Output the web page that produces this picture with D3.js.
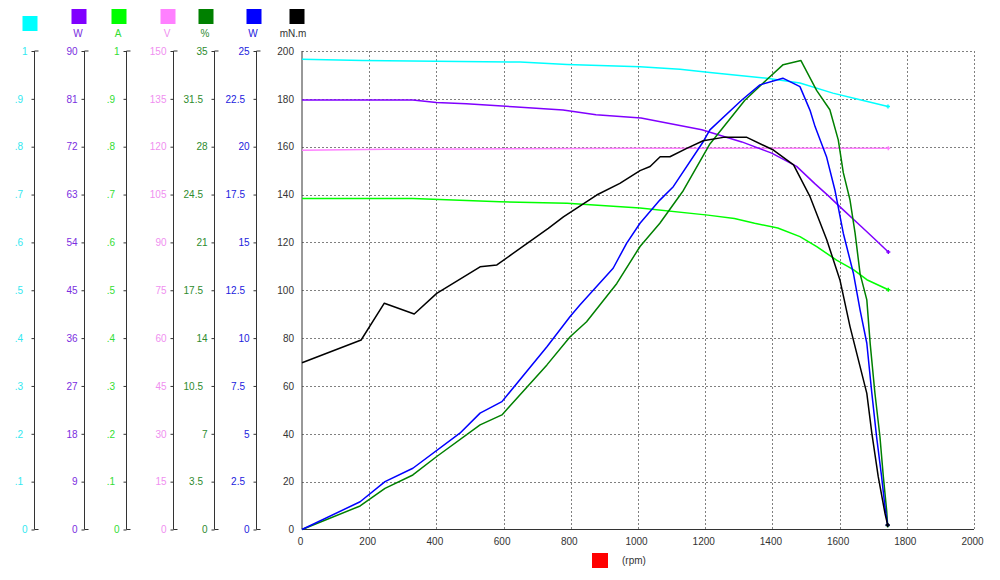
<!DOCTYPE html>
<html>
<head>
<meta charset="utf-8">
<script src="https://cdn.jsdelivr.net/npm/d3@7"></script>
<style>
  html, body { margin: 0; padding: 0; background: #fff; }
  svg { display: block; font-family: "Liberation Sans", Arial, sans-serif; }
</style>
</head>
<body>
<svg id="chart" width="1000" height="580"></svg>
<script>
/* motor curve chart: 7 y axes side by side, one rpm axis */

// axes, left to right
var axisUnits = ['', 'W', 'A', 'V', '%', 'W', 'mN.m'];
var axisMax = [1, 90, 1, 150, 35, 25, 200];
var rpmTicks = [0, 200, 400, 600, 800, 1000, 1200, 1400, 1600, 1800, 2000];
var xUnit = '(rpm)';

// series as [rpm, value] in the unit of their own axis
var cyanSeries = [[0, 0.983], [181, 0.980], [470, 0.978], [649, 0.977], [789, 0.972], [1006, 0.967],
  [1125, 0.962], [1214, 0.955], [1384, 0.943], [1482, 0.933], [1580, 0.912], [1661, 0.898], [1744, 0.884]];
var purpleSeries = [[0, 80.8], [330, 80.8], [400, 80.3], [489, 80.1], [628, 79.5], [777, 78.9], [875, 78.0],
  [1009, 77.4], [1190, 75.2], [1309, 72.9], [1398, 70.8], [1472, 68.3], [1527, 65.0], [1566, 62.8],
  [1606, 60.4], [1666, 56.9], [1705, 54.6], [1745, 52.2]];
var greenSeries = [[0, 0.692], [330, 0.692], [589, 0.685], [789, 0.682], [1006, 0.672], [1208, 0.657],
  [1287, 0.650], [1347, 0.640], [1416, 0.630], [1482, 0.612], [1532, 0.591], [1591, 0.563],
  [1641, 0.543], [1681, 0.522], [1745, 0.501]];
var pinkSeries = [[0, 118.9], [250, 119.2], [500, 119.3], [1000, 119.5], [1745, 119.5]];
var dkgreenSeries = [[0, 0], [173, 1.72], [247, 3.01], [330, 3.99], [400, 5.32], [530, 7.65], [595, 8.38],
  [729, 12.04], [798, 14.1], [847, 15.2], [937, 18.0], [1006, 20.7], [1065, 22.4], [1135, 24.8],
  [1214, 28.2], [1318, 31.4], [1383, 32.9], [1432, 34.0], [1485, 34.3], [1532, 32.1], [1571, 30.7],
  [1596, 28.5], [1611, 26.1], [1631, 24.1], [1646, 21.7], [1661, 18.7], [1681, 16.8], [1691, 13.6],
  [1705, 10.0], [1720, 6.8], [1730, 3.9], [1740, 1.4], [1743, 0.3]];
var blueSeries = [[0, 0], [173, 1.45], [247, 2.5], [330, 3.2], [470, 5.03], [530, 6.08], [595, 6.68],
  [729, 9.55], [798, 11.13], [827, 11.73], [926, 13.65], [966, 14.95], [1006, 16.0],
  [1065, 17.21], [1105, 17.91], [1194, 20.26], [1214, 20.88], [1309, 22.44], [1363, 23.23],
  [1431, 23.58], [1482, 23.14], [1512, 21.9], [1527, 21.05], [1561, 19.48], [1586, 17.74],
  [1611, 15.48], [1641, 13.39], [1661, 11.46], [1681, 9.73], [1696, 7.11], [1710, 4.85],
  [1725, 2.76], [1735, 1.19], [1743, 0.24]];
var blackSeries = [[0, 69.7], [176, 79.2], [245, 94.6], [334, 90.1], [401, 98.7], [530, 109.8], [580, 110.6],
  [733, 125.9], [778, 130.7], [877, 139.8], [946, 144.7], [1006, 150.0], [1036, 151.7], [1066, 155.8],
  [1095, 155.8], [1145, 159.3], [1194, 162.5], [1254, 163.9], [1324, 163.9], [1403, 158.6],
  [1463, 152.4], [1512, 139.1], [1562, 121.0], [1601, 104.3], [1631, 84.8], [1681, 56.9],
  [1696, 40.2], [1715, 22.1], [1735, 6.8], [1743, 1.9]];

// styling / layout
var colors = ['#00ffff', '#8000ff', '#00ff00', '#ff80ff', '#008000', '#0000ff', '#000000'];
var labelColors = ['#33e8f0', '#7a2ee0', '#33dd33', '#f090f0', '#2e8b2e', '#2222dd', '#333333'];
var axisX = [34.5, 84.5, 126.5, 173.5, 214.5, 256.5, 302];
var legendX = [30, 79, 119, 168, 206, 254, 297];
var seriesList = [
  { data: pinkSeries, axis: 3 }, { data: cyanSeries, axis: 0 }, { data: greenSeries, axis: 2 },
  { data: purpleSeries, axis: 1 }, { data: dkgreenSeries, axis: 4 }, { data: blueSeries, axis: 5 },
  { data: blackSeries, axis: 6 }
];
var TOP = 51, BOTTOM = 529.5, LEFT = 302, RIGHT = 974;

var svg = d3.select('#chart');
var x = d3.scaleLinear().domain([0, 2000]).range([LEFT, RIGHT]);
var ys = axisMax.map(function (m) { return d3.scaleLinear().domain([0, m]).range([BOTTOM, TOP]); });

function fmt(d) { return String(+d.toFixed(2)).replace(/^0\./, '.'); }

// grid
var grid = svg.append('g').attr('stroke', '#808080').attr('stroke-width', 1).attr('stroke-dasharray', '2,2');
grid.selectAll('line.h').data(d3.range(1, 11)).enter().append('line')
  .attr('x1', LEFT).attr('x2', RIGHT)
  .attr('y1', function (d) { return Math.round(ys[6](d * 20)) + 0.5; })
  .attr('y2', function (d) { return Math.round(ys[6](d * 20)) + 0.5; });
grid.selectAll('line.v').data(rpmTicks.slice(1)).enter().append('line')
  .attr('y1', TOP).attr('y2', BOTTOM)
  .attr('x1', function (d) { return Math.round(x(d)) + 0.5; })
  .attr('x2', function (d) { return Math.round(x(d)) + 0.5; });

// y axes
axisMax.forEach(function (m, i) {
  var g = svg.append('g').attr('transform', 'translate(' + axisX[i] + ',0)');
  var ax = d3.axisLeft(ys[i]).tickValues(d3.range(11).map(function (k) { return m * k / 10; }))
    .tickSize(i === 6 ? 0 : 3).tickFormat(fmt);
  g.call(ax);
  g.select('.domain').remove();
  g.selectAll('.tick line').attr('stroke', '#333');
  g.append('line').attr('x1', 0).attr('x2', 0).attr('y1', TOP).attr('y2', BOTTOM).attr('stroke', '#333');
  if (i < 6) {
    g.append('line').attr('x1', 0).attr('x2', 4).attr('y1', TOP).attr('y2', TOP).attr('stroke', '#333');
    g.append('line').attr('x1', 0).attr('x2', 4).attr('y1', BOTTOM).attr('y2', BOTTOM).attr('stroke', '#333');
  }
  g.selectAll('.tick text')
    .attr('fill', labelColors[i]).attr('font-size', 10).attr('font-family', null)
    .attr('x', function (d) { return (i === 6 ? -8 : (fmt(d).indexOf('.') >= 0 ? -11.5 : -7)); });

  // legend square + unit
  var ly = i === 0 ? 16 : 9;
  svg.append('rect').attr('x', legendX[i] - 7.5).attr('y', ly).attr('width', 15).attr('height', 15).attr('fill', colors[i]);
  if (axisUnits[i]) {
    svg.append('text').attr('x', legendX[i] - (i === 6 ? 4 : 1)).attr('y', 37).attr('text-anchor', 'middle')
      .attr('font-size', 10).attr('fill', i === 6 ? '#333' : labelColors[i]).text(axisUnits[i]);
  }
});

// x axis
var gx = svg.append('g').attr('transform', 'translate(0,' + BOTTOM + ')');
gx.call(d3.axisBottom(x).tickValues(rpmTicks).tickSize(0).tickFormat(d3.format('d')));
gx.select('.domain').remove();
gx.selectAll('.tick text').attr('fill', '#333').attr('font-size', 10).attr('font-family', null).attr('dx', -2).attr('y', 8);
svg.append('line').attr('x1', LEFT).attr('x2', RIGHT).attr('y1', BOTTOM).attr('y2', BOTTOM).attr('stroke', '#333');

svg.append('rect').attr('x', 592).attr('y', 553).attr('width', 16).attr('height', 15).attr('fill', '#ff0000');
svg.append('text').attr('x', 622).attr('y', 564).attr('font-size', 10).attr('fill', '#333').text(xUnit);

// curves
var plot = svg.append('g');
seriesList.forEach(function (s) {
  var y = ys[s.axis];
  var line = d3.line().x(function (d) { return x(d[0]); }).y(function (d) { return y(d[1]); });
  plot.append('path').datum(s.data).attr('d', line).attr('fill', 'none')
    .attr('stroke', colors[s.axis]).attr('stroke-width', 1.5).attr('stroke-linejoin', 'round');
  var last = s.data[s.data.length - 1];
  plot.append('path')
    .attr('d', 'M' + (x(last[0]) - 2) + ',' + y(last[1]) + 'h4M' + x(last[0]) + ',' + (y(last[1]) - 2) + 'v4')
    .attr('stroke', colors[s.axis]).attr('stroke-width', 1.5);
});
</script>
</body>
</html>
